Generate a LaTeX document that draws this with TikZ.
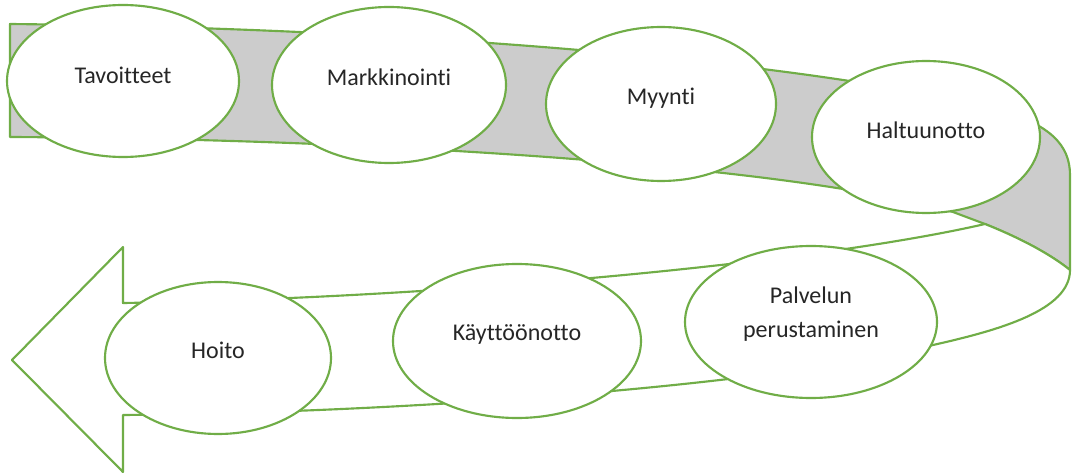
\documentclass[tikz,border=0pt]{standalone}
\usepackage{fontspec}
\setmainfont{Carlito}[Ligatures={NoCommon}, RawFeature={-liga;-clig}]
\usetikzlibrary{shapes.geometric}
\definecolor{grn}{HTML}{70AD47}
\definecolor{bandgray}{HTML}{CCCCCC}
\definecolor{txt}{HTML}{262626}
\tikzset{
  bandline/.style={draw=grn, line width=1.6pt, line join=round},
  bub/.style={ellipse, draw=grn, fill=white, line width=1.6pt, inner sep=0pt},
  lbl/.style={text=txt, font=\fontsize{18}{25.5}\selectfont, align=center, inner sep=0pt}
}
\begin{document}
\begin{tikzpicture}[x=0.75pt,y=-0.75pt]
\useasboundingbox (0,0) rectangle (1074,474);
% upper band with the turn (grey)
\coordinate (d1) at (953,212);
\coordinate (d2) at (985,224);
\coordinate (d3) at (1070,270);
\path[bandline, fill=bandgray] (10,24) .. controls (400,28) and (800,60) .. (1000,110)
  .. controls (1050,125) and (1070,145) .. (1070,175) -- (d3)
  .. controls (1045,250) and (1010,234) .. (d2) -- (d1)
  .. controls (800,168) and (400,139) .. (10,137) -- cycle;
% lower band with arrow head (white)
\path[bandline, fill=white] (d2) .. controls (820,262) and (450,298) .. (123,303)
  -- (123,247) -- (12,360) -- (123,472) -- (123,415)
  .. controls (450,412) and (800,380) .. (933,345)
  .. controls (1000,330) and (1070,310) .. (d3)
  .. controls (1045,250) and (1010,234) .. (d2) -- cycle;
% ellipses
\node[bub, minimum width=174pt, minimum height=114pt] (e1) at (123,81) {};
\node[bub, minimum width=175.5pt, minimum height=117pt] (e2) at (389,85) {};
\node[bub, minimum width=172.5pt, minimum height=115.5pt] (e3) at (661,104) {};
\node[bub, minimum width=171pt, minimum height=114pt] (e4) at (926,137) {};
\node[bub, minimum width=189pt, minimum height=114pt] (e5) at (811,322) {};
\node[bub, minimum width=186pt, minimum height=115.5pt] (e6) at (517,341) {};
\node[bub, minimum width=169.5pt, minimum height=114pt] (e7) at (218,358) {};
% labels
\node[lbl] (t1) at ([yshift=4.5pt]e1.center) {Tavoitteet};
\node[lbl] (t2) at ([yshift=5.5pt]e2.center) {Markkinointi};
\node[lbl] (t3) at ([yshift=4.5pt]e3.center) {Myynti};
\node[lbl] (t4) at ([yshift=5pt]e4.center) {Haltuunotto};
\node[lbl] (t5) at ([yshift=6pt]e5.center) {Palvelun\\perustaminen};
\node[lbl] (t6) at ([yshift=5pt]e6.center) {Käyttöönotto};
\node[lbl] (t7) at ([yshift=5.5pt]e7.center) {Hoito};
\end{tikzpicture}
\end{document}
